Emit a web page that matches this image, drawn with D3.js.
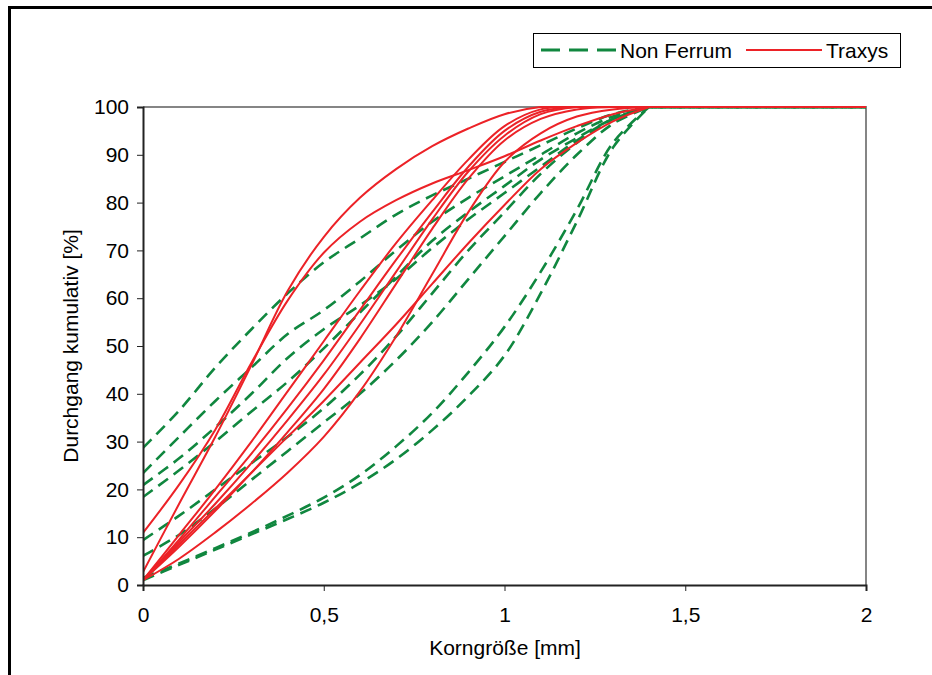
<!DOCTYPE html>
<meta charset="utf-8">
<style>
body { margin: 0; background: #fff; }
text { font-family: Arial, "Liberation Sans", sans-serif; fill: #000; }
.axis path, .axis line { stroke: #222; }
.nf { fill: none; stroke: #10873f; stroke-width: 2.6px; stroke-dasharray: 12,7; }
.tx { fill: none; stroke: #ec2227; stroke-width: 2px; }
</style>
<svg width="932" height="675"></svg>
<script src="https://cdn.jsdelivr.net/npm/d3@7"></script>
<script>

// sieve sizes [mm]
var sizes = [0, 0.1, 0.2, 0.3, 0.4, 0.5, 0.6, 0.7, 0.8, 0.9, 1.0, 1.1, 1.2, 1.3, 1.4, 2.0];

// Non Ferrum samples, cumulative passing [%]
var nf1 = [28.7, 36.5, 45.5, 53.5, 61, 67.5, 72.5, 77.5, 81.5, 85, 88.5, 92, 95.5, 98.5, 100, 100];
var nf2 = [23.4, 31, 38.5, 45.5, 52.5, 57.5, 63.5, 70, 76, 81, 85.5, 90, 94.5, 98, 100, 100];
var nf3 = [20.9, 26.5, 33, 40, 47.5, 53.5, 58.5, 64, 70.5, 76.5, 82, 87.5, 93, 97.5, 100, 100];
var nf4 = [18.4, 24, 30, 36.3, 42.5, 49.5, 57, 64.5, 72, 78, 83.5, 89, 93.5, 97.5, 100, 100];
var nf5 = [9.4, 14.5, 20, 25.5, 31, 37, 44, 52, 61, 70, 78, 86, 92.5, 97.5, 100, 100];
var nf6 = [6.1, 10.5, 16, 22, 28, 34, 40, 47, 55, 64, 73, 82, 90, 96.5, 100, 100];
var nf7 = [1.5, 4.5, 7.7, 11, 14.5, 18.3, 23, 29, 36, 44.5, 54, 65.5, 78.5, 92.5, 100, 100];
var nf8 = [1, 4.2, 7.4, 10.6, 13.8, 17.2, 21.3, 26.3, 32.4, 39.5, 48, 61, 76, 91.5, 100, 100];

// Traxys samples, cumulative passing [%]
var tx1 = [2.7, 17, 31, 46, 61.5, 72.8, 81, 87, 91.8, 95.5, 98.5, 100, 100, 100, 100, 100];
var tx2 = [10.9, 21, 32.5, 46.5, 59.5, 69.5, 76, 80.5, 84, 86.8, 89.7, 93, 96, 98.5, 100, 100];
var tx3 = [1, 10.5, 20, 30, 40.5, 51, 61.5, 71.5, 80.5, 89, 96, 99.5, 100, 100, 100, 100];
var tx4 = [1, 9.5, 18.5, 27.5, 37, 47, 57.5, 68, 78, 87.5, 95, 99, 100, 100, 100, 100];
var tx5 = [1, 9, 17, 25.5, 34.5, 44, 54.5, 65.5, 76.5, 86.5, 94, 98.5, 100, 100, 100, 100];
var tx6 = [1, 8, 15.5, 23.5, 32, 41, 51.5, 63, 74.5, 85, 93, 97.5, 99.5, 100, 100, 100];
var tx7 = [1, 5.5, 11, 17, 23.5, 31, 40.5, 52, 65, 78, 88.5, 94.5, 98, 99.5, 100, 100];
var tx8 = [1, 8.5, 16, 23.5, 31, 38.5, 46.5, 54.5, 63, 71.5, 79.5, 87, 92.5, 97, 100, 100];

var nonFerrum = [nf1, nf2, nf3, nf4, nf5, nf6, nf7, nf8];
var traxys = [tx1, tx2, tx3, tx4, tx5, tx6, tx7, tx8];

var xTicks = [0, 0.5, 1, 1.5, 2];
var yTicks = [0, 10, 20, 30, 40, 50, 60, 70, 80, 90, 100];

var svg = d3.select("svg");

// outer frame (top and left edge visible)
svg.append("path")
    .attr("d", "M9.5,680V7.5H940")
    .attr("fill", "none")
    .attr("stroke", "#000")
    .attr("stroke-width", 3);

var x = d3.scaleLinear().domain([0, 2]).range([143, 866]),
    y = d3.scaleLinear().domain([0, 100]).range([585, 107]);

var de = d3.formatLocale({decimal: ",", thousands: ".", grouping: [3], currency: ["", " €"]});
var fmt = de.format("~g");

// plot border top / right
svg.append("path")
    .attr("d", "M143," + y(100) + "H866V585")
    .attr("fill", "none")
    .attr("stroke", "#858585")
    .attr("stroke-width", 2);

svg.append("clipPath").attr("id", "clip")
  .append("rect")
    .attr("x", 143).attr("y", 106).attr("width", 724).attr("height", 480);

// smoothed part up to the last sieve below 2 mm, straight tail after it
var smooth = d3.line()
    .curve(d3.curveCatmullRom.alpha(0.5))
    .x(function(d) { return x(d[0]); })
    .y(function(d) { return y(d[1]); });
var straight = d3.line()
    .x(function(d) { return x(d[0]); })
    .y(function(d) { return y(d[1]); });

function path(vals) {
  var pts = vals.map(function(v, i) { return [sizes[i], v]; });
  var n = pts.length;
  return smooth(pts.slice(0, n - 1)) + straight(pts.slice(n - 2)).replace(/^M[^L]*/, "");
}

var plot = svg.append("g").attr("clip-path", "url(#clip)");

plot.selectAll(".nf")
    .data(nonFerrum)
  .enter().append("path")
    .attr("class", "nf")
    .attr("d", path);

plot.selectAll(".tx")
    .data(traxys)
  .enter().append("path")
    .attr("class", "tx")
    .attr("d", path);

var ax = svg.append("g")
    .attr("class", "axis")
    .attr("transform", "translate(0,585)")
    .call(d3.axisBottom(x).tickValues(xTicks).tickFormat(fmt).tickSizeOuter(0).tickSize(6).tickPadding(16));
ax.select(".domain").attr("stroke-width", 2);
ax.selectAll("text").style("font-size", "21px").style("font-family", "Arial, 'Liberation Sans', sans-serif");

var ay = svg.append("g")
    .attr("class", "axis")
    .attr("transform", "translate(143,0)")
    .call(d3.axisLeft(y).tickValues(yTicks).tickSizeOuter(0).tickSize(6).tickPadding(8));
ay.select(".domain").attr("stroke-width", 2);
ay.selectAll("text").style("font-size", "21px").style("font-family", "Arial, 'Liberation Sans', sans-serif");

svg.append("text")
    .attr("x", 505)
    .attr("y", 655)
    .attr("text-anchor", "middle")
    .style("font-size", "21px")
    .text("Korngröße [mm]");

svg.append("text")
    .attr("transform", "translate(78,346) rotate(-90)")
    .attr("text-anchor", "middle")
    .style("font-size", "21px")
    .text("Durchgang kumulativ [%]");

// legend
var lg = svg.append("g");
lg.append("rect")
    .attr("x", 533.5).attr("y", 33.5).attr("width", 367).attr("height", 34)
    .attr("fill", "#fff").attr("stroke", "#000").attr("stroke-width", 1);
lg.append("line")
    .attr("x1", 541).attr("x2", 616).attr("y1", 50).attr("y2", 50)
    .attr("stroke", "#10873f").attr("stroke-width", 3).attr("stroke-dasharray", "19,9");
lg.append("text").attr("x", 620).attr("y", 58).style("font-size", "21px").text("Non Ferrum");
lg.append("line")
    .attr("x1", 746).attr("x2", 822).attr("y1", 50).attr("y2", 50)
    .attr("stroke", "#ec2227").attr("stroke-width", 2);
lg.append("text").attr("x", 826).attr("y", 58).style("font-size", "21px").text("Traxys");

</script>
